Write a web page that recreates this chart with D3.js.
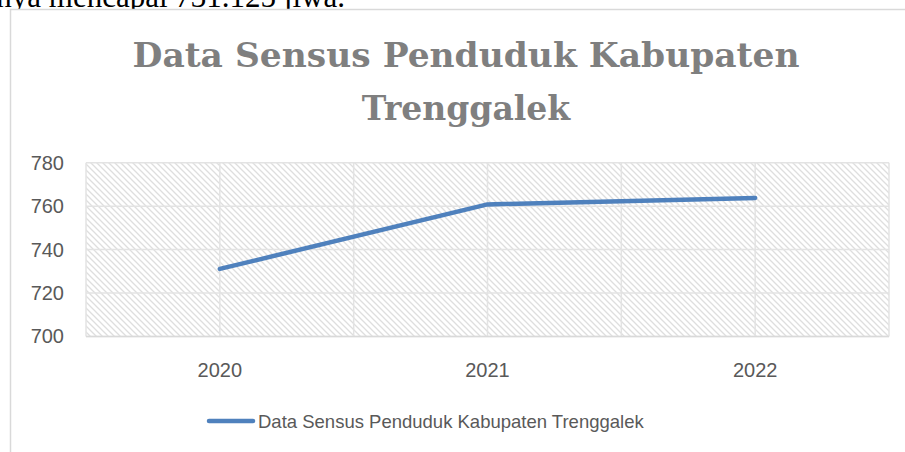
<!DOCTYPE html>
<html>
<head>
<meta charset="utf-8">
<script src="https://cdn.jsdelivr.net/npm/d3@7"></script>
<style>
  body { margin: 0; background: #fff; }
  svg { display: block; }
</style>
</head>
<body>
<div id="chart"></div>
<script>
// data
const tahun = ['2020', '2021', '2022'];
const penduduk = [731.1, 760.8, 763.8];
const yTicks = [700, 720, 740, 760, 780];
const judul = ['Data Sensus Penduduk Kabupaten', 'Trenggalek'];
const namaSeri = 'Data Sensus Penduduk Kabupaten Trenggalek';

const width = 905, height = 452;
const plotL = 86, plotR = 889, plotT = 162.7, plotB = 336.5;

const svg = d3.select('#chart').append('svg')
  .attr('width', width)
  .attr('height', height);

// hatch pattern for plot area
const defs = svg.append('defs');
const pat = defs.append('pattern')
  .attr('id', 'hatch')
  .attr('patternUnits', 'userSpaceOnUse')
  .attr('width', 6)
  .attr('height', 6);
pat.append('rect').attr('width', 6).attr('height', 6).attr('fill', '#fff');
pat.append('path')
  .attr('d', 'M0,0 L6,6 M-3,3 L3,9 M3,-3 L9,3')
  .attr('stroke', '#dedede')
  .attr('stroke-width', 1.3);

// text of the document above the chart (cut off)
svg.append('text')
  .attr('x', 345)
  .attr('y', 7)
  .attr('text-anchor', 'end')
  .attr('font-family', 'Liberation Serif, serif')
  .attr('font-size', 31)
  .attr('fill', '#000')
  .text('nya mencapai 731.125 jiwa.');

// chart frame
svg.append('rect')
  .attr('x', 10.5)
  .attr('y', 9.5)
  .attr('width', 1000)
  .attr('height', 1000)
  .attr('fill', '#fff')
  .attr('stroke', '#d9d9d9')
  .attr('stroke-width', 1.5);

// title
const titleText = svg.append('text')
  .attr('text-anchor', 'middle')
  .attr('font-family', 'DejaVu Serif, serif')
  .attr('font-weight', 'bold')
  .attr('font-size', 33)
  .attr('fill', '#7f7f7f');
titleText.selectAll('tspan')
  .data(judul)
  .enter()
  .append('tspan')
  .attr('x', 466)
  .attr('y', (d, i) => 67 + i * 53)
  .text(d => d);
titleText.select('tspan')
  .attr('textLength', 667)
  .attr('lengthAdjust', 'spacingAndGlyphs');

const x = d3.scaleBand()
  .domain(tahun)
  .range([plotL, plotR])
  .padding(0);

const y = d3.scaleLinear()
  .domain([700, 780])
  .range([plotB, plotT]);

const cx = d => x(d) + x.bandwidth() / 2;

// plot area
svg.append('rect')
  .attr('x', plotL)
  .attr('y', plotT)
  .attr('width', plotR - plotL)
  .attr('height', plotB - plotT)
  .attr('fill', 'url(#hatch)');

// horizontal gridlines
svg.append('g')
  .selectAll('line')
  .data(yTicks)
  .enter()
  .append('line')
  .attr('x1', plotL)
  .attr('x2', plotR)
  .attr('y1', d => y(d))
  .attr('y2', d => y(d))
  .attr('stroke', '#e3e3e3')
  .attr('stroke-width', 1.5);

// vertical gridlines (band edges and centres)
const vLines = [];
tahun.forEach(t => { vLines.push(x(t)); vLines.push(cx(t)); });
vLines.push(plotR);
svg.append('g')
  .selectAll('line')
  .data(vLines)
  .enter()
  .append('line')
  .attr('x1', d => d)
  .attr('x2', d => d)
  .attr('y1', plotT)
  .attr('y2', plotB)
  .attr('stroke', '#e3e3e3')
  .attr('stroke-width', 1.5);

// x axis baseline
svg.append('line')
  .attr('x1', plotL)
  .attr('x2', plotR)
  .attr('y1', plotB)
  .attr('y2', plotB)
  .attr('stroke', '#d9d9d9')
  .attr('stroke-width', 1.5);

// axes
const yAxis = svg.append('g')
  .attr('transform', 'translate(' + (plotL - 22) + ',0)')
  .call(d3.axisLeft(y).tickValues(yTicks).tickSize(0).tickPadding(0));
yAxis.select('.domain').remove();
yAxis.selectAll('text')
  .attr('font-family', 'Liberation Sans, Arial, sans-serif')
  .attr('font-size', 20)
  .attr('fill', '#595959');

const xAxis = svg.append('g')
  .attr('transform', 'translate(0,' + plotB + ')')
  .call(d3.axisBottom(x).tickSize(0).tickPadding(26));
xAxis.select('.domain').remove();
xAxis.selectAll('text')
  .attr('font-family', 'Liberation Sans, Arial, sans-serif')
  .attr('font-size', 20)
  .attr('fill', '#595959');

// line
const line = d3.line()
  .x(d => cx(d.t))
  .y(d => y(d.v));

svg.append('path')
  .datum(tahun.map((t, i) => ({ t: t, v: penduduk[i] })))
  .attr('fill', 'none')
  .attr('stroke', '#4f81bd')
  .attr('stroke-width', 4.5)
  .attr('stroke-linecap', 'round')
  .attr('stroke-linejoin', 'round')
  .attr('d', line);

// legend
svg.append('line')
  .attr('x1', 209)
  .attr('x2', 253)
  .attr('y1', 421)
  .attr('y2', 421)
  .attr('stroke', '#4f81bd')
  .attr('stroke-width', 4.5)
  .attr('stroke-linecap', 'round');

svg.append('text')
  .attr('x', 258)
  .attr('y', 428)
  .attr('font-family', 'Liberation Sans, Arial, sans-serif')
  .attr('font-size', 18.5)
  .attr('fill', '#595959')
  .text(namaSeri);
</script>
</body>
</html>
